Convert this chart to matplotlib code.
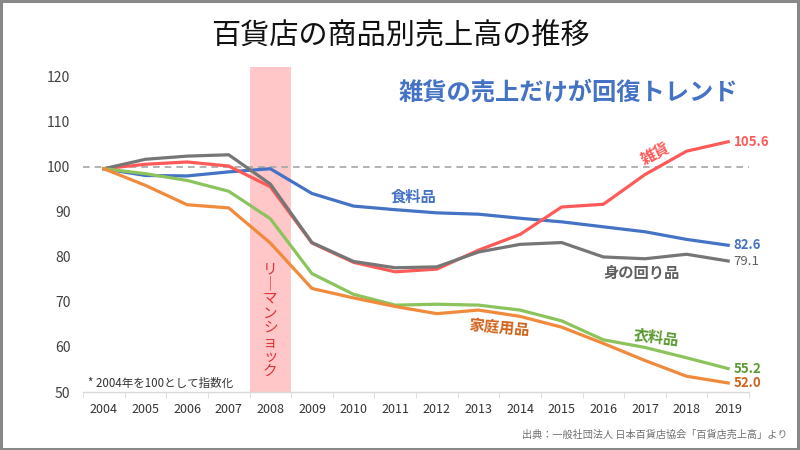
import matplotlib
matplotlib.use("Agg")
import matplotlib.pyplot as plt
from matplotlib.patches import Rectangle

plt.rcParams['font.family'] = ['Noto Sans CJK JP', 'DejaVu Sans']

years = [str(y) for y in range(2004, 2020)]
food = [99.6, 98.1, 98.0, 98.9, 99.6, 94.1, 91.3, 90.5, 89.8, 89.5, 88.6, 87.8, 86.7, 85.6, 83.9, 82.6]
misc = [99.6, 100.6, 101.1, 100.2, 95.6, 83.1, 78.8, 76.7, 77.3, 81.5, 85.0, 91.1, 91.7, 98.3, 103.5, 105.6]
personal = [99.6, 101.7, 102.4, 102.7, 96.2, 83.2, 79.0, 77.6, 77.8, 81.1, 82.8, 83.2, 80.0, 79.6, 80.6, 79.1]
clothing = [99.6, 98.5, 97.0, 94.6, 88.5, 76.3, 71.7, 69.3, 69.5, 69.3, 68.2, 65.8, 61.6, 59.9, 57.6, 55.2]
household = [99.6, 95.9, 91.6, 90.9, 83.1, 73.0, 70.9, 69.0, 67.4, 68.2, 66.8, 64.4, 60.8, 57.0, 53.5, 52.0]
yticks = [50, 60, 70, 80, 90, 100, 110, 120]

series = [
    ("食料品", food, "#4472C4", "#4472C4", (7.45, 93.5), 0),
    ("雑貨", misc, "#FF5A5A", "#FF5A5A", (13.24, 103.0), 28),
    ("身の回り品", personal, "#767676", "#5F5F5F", (12.93, 76.6), 0),
    ("衣料品", clothing, "#8CC35C", "#5A9A32", (13.26, 62.2), -7),
    ("家庭用品", household, "#F08A3C", "#D0631B", (9.51, 64.4), -5),
]

fig = plt.figure(figsize=(8, 4.5), dpi=100)
ax = fig.add_axes([83/800, (450-392)/450, (749-83)/800, (392-67)/450])
x = list(range(len(years)))

ax.axvspan(3.5, 4.5, color="#FFC7C7", zorder=0, lw=0)
ax.axhline(100, color="#A6A6A6", lw=1.2, ls=(0, (4, 3)), zorder=1)

for name, vals, lc, tc, pos, rot in series:
    ax.plot(x, vals, color=lc, lw=2.3, zorder=3, solid_joinstyle='round')
    ax.annotate(f"{vals[-1]:.1f}", (x[-1], vals[-1]), xytext=(4, 0), textcoords="offset points",
                va="center", ha="left", fontsize=9.5, color=tc, fontweight="bold" if name != "身の回り品" else "normal")
    ax.text(pos[0], pos[1], name, color=tc, fontsize=11, fontweight="bold", ha="center", va="center",
            rotation=rot, zorder=4)

ax.text(4, 65.9, "\n".join("リ｜マンショック"), color="#E0333A", fontsize=10.5, ha="center", va="center",
        linespacing=1.05, zorder=4)
ax.text(11.17, 116.6, "雑貨の売上だけが回復トレンド", color="#4472C4", fontsize=17.5, fontweight="bold",
        ha="center", va="center")

ax.set_xlim(-0.5, 15.5)
ax.set_ylim(50, 122.2)
ax.set_xticks(x)
ax.set_xticklabels(years)
ax.set_xticks([i - 0.5 for i in range(len(years) + 1)], minor=True)
ax.set_yticks(yticks)
ax.tick_params(axis="x", which="major", length=0, pad=8, labelsize=9, labelcolor="#333333")
ax.tick_params(axis="x", which="minor", length=4, color="#D9D9D9", direction="out")
ax.tick_params(axis="y", length=0, pad=9, labelsize=10, labelcolor="#404040")
for s in ["left", "right", "top"]:
    ax.spines[s].set_visible(False)
ax.spines["bottom"].set_color("#D9D9D9")
ax.spines["bottom"].set_linewidth(1)

fig.text(0.5, 0.918, "百貨店の商品別売上高の推移", ha="center", va="center", fontsize=21, color="#111111")
fig.text(88/800, (450-383)/450, "* 2004年を100として指数化", ha="left", va="center", fontsize=8.3, color="#333333")
fig.text(787/800, (450-435)/450, "出典：一般社団法人 日本百貨店協会「百貨店売上高」より", ha="right", va="center",
         fontsize=7.3, color="#707070")

fig.patches.append(Rectangle((0.001, 0.002), 0.997, 0.995, transform=fig.transFigure, fill=False,
                             edgecolor="#888888", lw=2.2))

fig.savefig("out.png", dpi=100)
